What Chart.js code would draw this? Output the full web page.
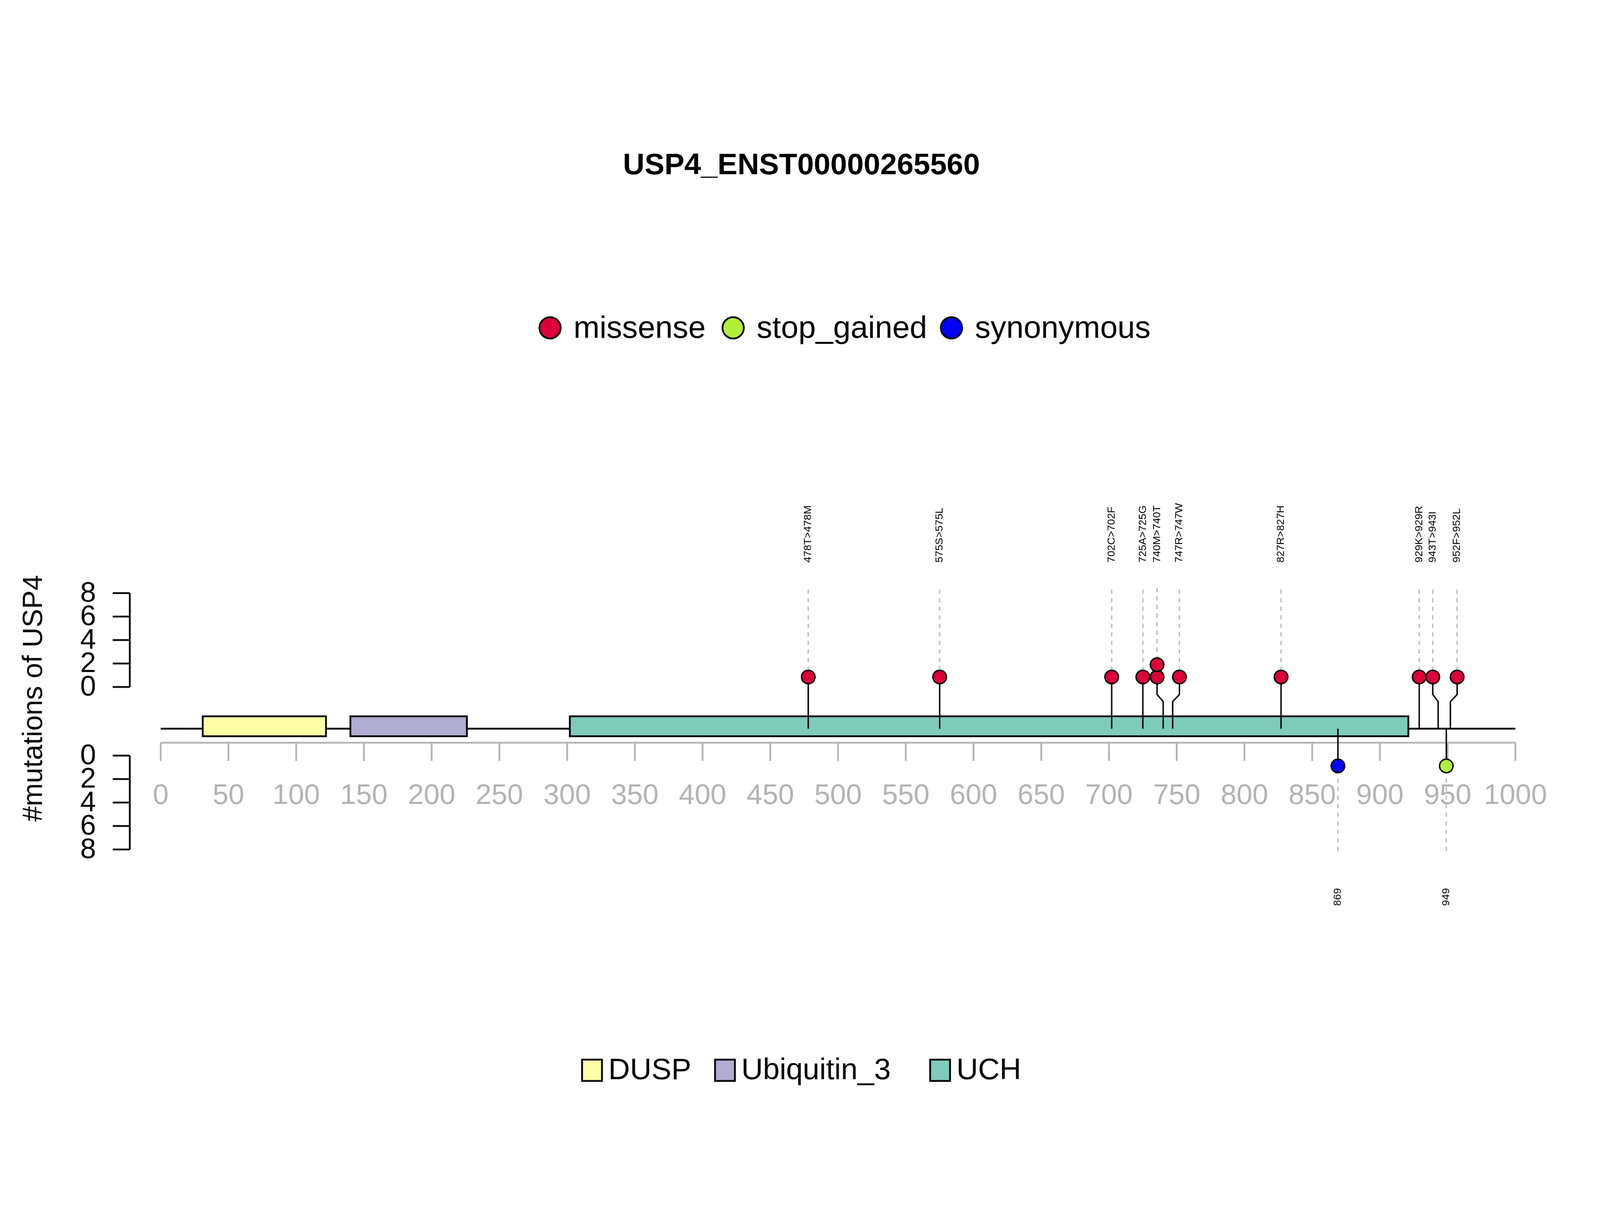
<!DOCTYPE html>
<html>
<head>
<meta charset="UTF-8">
<title>USP4 lollipop</title>
<script src="https://cdn.jsdelivr.net/npm/chart.js"></script>
<style>
  html, body { margin: 0; padding: 0; background: white; overflow: hidden; }
  canvas { display: block; transform-origin: 0 0; }
</style>
</head>
<body>
<canvas id="c" width="4500" height="3100" style="width:4500px;height:3100px"></canvas>
<script>
// protein + domains
const proteinLength = 1000;
const domainNames = ["DUSP", "Ubiquitin_3", "UCH"];
const domainStart = [31, 140, 302];
const domainEnd = [122, 226, 921];
const domainColors = ["#FFFFA8", "#B0ACD2", "#7FCBBA"];

// mutations above the backbone (missense)
const upLabels = ["478T>478M", "575S>575L", "702C>702F", "725A>725G", "740M>740T", "747R>747W", "827R>827H", "929K>929R", "943T>943I", "952F>952L"];
const upPos = [478, 575, 702, 725, 740, 747, 827, 929, 943, 952];
const upDrawX = [478, 575, 702, 725, 735.5, 752, 827, 929, 939, 957];
const upCounts = [1, 1, 1, 1, 2, 1, 1, 1, 1, 1];
const stackHeights = [0.85, 1.9];

// mutations below the backbone
const lowLabels = ["869", "949"];
const lowPos = [869, 949];
const lowType = ["synonymous", "stop_gained"];
const lowHeight = [0.88, 0.88];

const typeNames = ["missense", "stop_gained", "synonymous"];
const typeColors = ["#DC0039", "#B3EE3A", "#0000FF"];

const xTicks = [0, 50, 100, 150, 200, 250, 300, 350, 400, 450, 500, 550, 600, 650, 700, 750, 800, 850, 900, 950, 1000];
const yTicks = [0, 2, 4, 6, 8];

// vertical layout in y-scale units (upper count axis: 0 at 0)
const BACKBONE_Y = -3.55;
const BOX_TOP = -2.5, BOX_BOT = -4.2;
const KINK_LOW = -1.25, KINK_HIGH = -0.64;
const XAXIS_Y = -4.75, XTICK_END = -6.3, XLABEL_Y = -9.3;
const LOW0 = -5.85;
const DASH_TOP = 8.3, DASH_BOT_UP = 1.35;
const LOW_DASH_TOP = -7.8, LOW_DASH_BOT = -14.3, LOW_LABEL_Y = -17.9;
const LABEL_BASE_Y = 10.6;

// fit the 4500x3100 drawing into the window
const canvas = document.getElementById('c');
const fit = Math.min(window.innerWidth / 4500, window.innerHeight / 3100);
canvas.style.transform = 'scale(' + fit + ')';

const datasets = [];
// dashed guide lines
upPos.forEach((p, i) => {
  const top = upCounts[i] > 1 ? DASH_TOP + 0.15 : DASH_TOP;
  const bot = upCounts[i] > 1 ? stackHeights[1] + 0.5 : DASH_BOT_UP;
  datasets.push({ type: 'line', data: [{ x: upDrawX[i], y: top }, { x: upDrawX[i], y: bot }],
    borderColor: '#BDBDBD', borderWidth: 4, borderDash: [12, 12], pointRadius: 0, order: 5 });
});
lowPos.forEach((p) => {
  datasets.push({ type: 'line', data: [{ x: p, y: LOW_DASH_TOP }, { x: p, y: LOW_DASH_BOT }],
    borderColor: '#BDBDBD', borderWidth: 4, borderDash: [12, 12], pointRadius: 0, order: 5 });
});
// stems
upPos.forEach((p, i) => {
  const dx = upDrawX[i];
  const pts = dx === p
    ? [{ x: p, y: BACKBONE_Y }, { x: p, y: stackHeights[0] }]
    : [{ x: p, y: BACKBONE_Y }, { x: p, y: KINK_LOW }, { x: dx, y: KINK_HIGH }, { x: dx, y: stackHeights[0] }];
  datasets.push({ type: 'line', data: pts, borderColor: '#000', borderWidth: 4, pointRadius: 0, order: 4 });
});
lowPos.forEach((p, i) => {
  datasets.push({ type: 'line', data: [{ x: p, y: BACKBONE_Y }, { x: p, y: LOW0 - lowHeight[i] }],
    borderColor: '#000', borderWidth: 4, pointRadius: 0, order: 4 });
});
// circles
const missPts = [];
upDrawX.forEach((x, i) => { for (let k = 0; k < upCounts[i]; k++) missPts.push({ x: x, y: stackHeights[k] }); });
datasets.push({ type: 'scatter', label: 'missense', data: missPts, backgroundColor: typeColors[0],
  borderColor: '#000', borderWidth: 4, pointRadius: 19, order: 1 });
lowPos.forEach((p, i) => {
  datasets.push({ type: 'scatter', label: lowType[i], data: [{ x: p, y: LOW0 - lowHeight[i] }],
    backgroundColor: typeColors[typeNames.indexOf(lowType[i])], borderColor: '#000', borderWidth: 4, pointRadius: 19, order: 1 });
});

const font = (size, bold) => (bold ? 'bold ' : '') + size + 'px "Liberation Sans", Arial, sans-serif';

const decor = {
  id: 'decor',
  beforeDatasetsDraw(chart) {
    const { ctx, scales: { x, y } } = chart;
    ctx.save();
    // backbone
    ctx.strokeStyle = '#000'; ctx.lineWidth = 5;
    ctx.beginPath(); ctx.moveTo(x.getPixelForValue(0), y.getPixelForValue(BACKBONE_Y));
    ctx.lineTo(x.getPixelForValue(proteinLength), y.getPixelForValue(BACKBONE_Y)); ctx.stroke();
    // domains
    domainStart.forEach((s, i) => {
      const x0 = x.getPixelForValue(s), x1 = x.getPixelForValue(domainEnd[i]);
      const y0 = y.getPixelForValue(BOX_TOP), y1 = y.getPixelForValue(BOX_BOT);
      ctx.fillStyle = domainColors[i]; ctx.fillRect(x0, y0, x1 - x0, y1 - y0);
      ctx.lineWidth = 5; ctx.strokeRect(x0, y0, x1 - x0, y1 - y0);
    });
    // x axis (grey)
    ctx.strokeStyle = '#B3B3B3'; ctx.lineWidth = 5;
    const ay = y.getPixelForValue(XAXIS_Y), ty = y.getPixelForValue(XTICK_END);
    ctx.beginPath(); ctx.moveTo(x.getPixelForValue(0), ay); ctx.lineTo(x.getPixelForValue(proteinLength), ay); ctx.stroke();
    ctx.fillStyle = '#B3B3B3'; ctx.font = font(80); ctx.textAlign = 'center'; ctx.textBaseline = 'middle';
    xTicks.forEach((t) => {
      const px = x.getPixelForValue(t);
      ctx.beginPath(); ctx.moveTo(px, ay); ctx.lineTo(px, ty); ctx.stroke();
      ctx.fillText(String(t), px, y.getPixelForValue(XLABEL_Y));
    });
    ctx.restore();
  },
  afterDraw(chart) {
    const { ctx, scales: { x, y } } = chart;
    ctx.save();
    // title
    ctx.fillStyle = '#000'; ctx.textAlign = 'center'; ctx.textBaseline = 'middle';
    ctx.font = font(84, true); ctx.fillText('USP4_ENST00000265560', 2254, 467);
    // top legend
    const legX = [1547, 2062, 2676];
    ctx.font = font(88); ctx.textAlign = 'left';
    typeNames.forEach((n, i) => {
      ctx.beginPath(); ctx.arc(legX[i], 922, 30, 0, Math.PI * 2);
      ctx.fillStyle = typeColors[i]; ctx.fill(); ctx.lineWidth = 5; ctx.strokeStyle = '#000'; ctx.stroke();
      ctx.fillStyle = '#000'; ctx.fillText(n, legX[i] + 66, 926);
    });
    // bottom legend
    const sqX = [1665, 2039, 2644];
    ctx.font = font(84);
    domainNames.forEach((n, i) => {
      ctx.fillStyle = domainColors[i]; ctx.fillRect(sqX[i] - 28, 2980, 56, 60);
      ctx.lineWidth = 5; ctx.strokeStyle = '#000'; ctx.strokeRect(sqX[i] - 28, 2980, 56, 60);
      ctx.fillStyle = '#000'; ctx.fillText(n, sqX[i] + 46, 3012);
    });
    // count axes
    const axX = 365;
    ctx.lineWidth = 5; ctx.strokeStyle = '#000'; ctx.font = font(80); ctx.textAlign = 'right';
    [[0, 1], [LOW0, -1]].forEach(([base, dir]) => {
      ctx.beginPath(); ctx.moveTo(axX, y.getPixelForValue(base)); ctx.lineTo(axX, y.getPixelForValue(base + dir * 8)); ctx.stroke();
      yTicks.forEach((t) => {
        const py = y.getPixelForValue(base + dir * t);
        ctx.beginPath(); ctx.moveTo(axX, py); ctx.lineTo(axX - 48, py); ctx.stroke();
        ctx.fillStyle = '#000'; ctx.fillText(String(t), 270, py + 2);
      });
    });
    // y title
    ctx.save(); ctx.translate(96, 1964); ctx.rotate(-Math.PI / 2);
    ctx.textAlign = 'center'; ctx.font = font(78); ctx.fillText('#mutations of USP4', 0, 0); ctx.restore();
    // mutation labels
    ctx.font = font(30); ctx.fillStyle = '#000';
    upLabels.forEach((l, i) => {
      ctx.save(); ctx.translate(x.getPixelForValue(upDrawX[i]), y.getPixelForValue(LABEL_BASE_Y));
      ctx.rotate(-Math.PI / 2); ctx.textAlign = 'left'; ctx.textBaseline = 'middle'; ctx.fillText(l, 0, 0); ctx.restore();
    });
    lowLabels.forEach((l, i) => {
      ctx.save(); ctx.translate(x.getPixelForValue(lowPos[i]), y.getPixelForValue(LOW_LABEL_Y));
      ctx.rotate(-Math.PI / 2); ctx.textAlign = 'center'; ctx.textBaseline = 'middle'; ctx.fillText(l, 0, 0); ctx.restore();
    });
    ctx.restore();
  }
};

new Chart(canvas, {
  type: 'scatter',
  data: { datasets },
  options: {
    responsive: false,
    animation: false,
    devicePixelRatio: 1,
    clip: false,
    layout: { padding: { left: 452, right: 238, top: 1602, bottom: 673 } },
    plugins: { legend: { display: false }, tooltip: { enabled: false } },
    scales: {
      x: { type: 'linear', min: 0, max: proteinLength, display: false },
      y: { type: 'linear', min: -15, max: 10, display: false }
    },
    elements: { line: { tension: 0 } },
    datasets: { line: { clip: false }, scatter: { clip: false } }
  },
  plugins: [decor]
});
</script>
</body>
</html>
